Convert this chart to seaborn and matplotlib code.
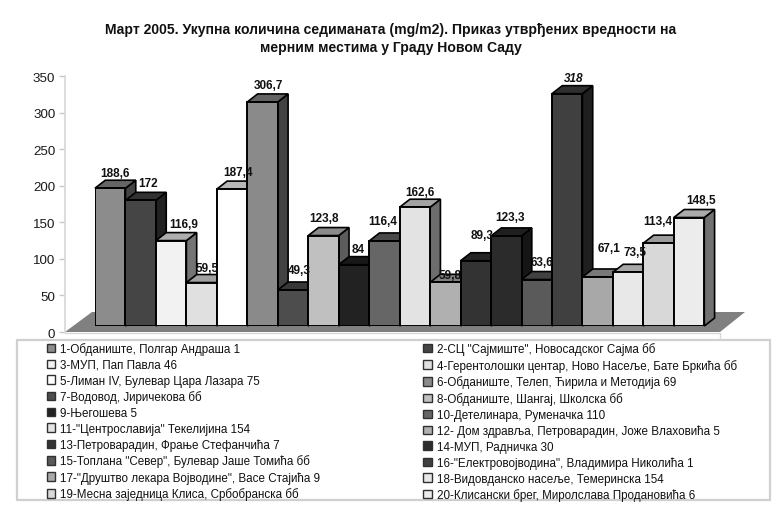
import numpy as np
import seaborn as sns
import matplotlib.pyplot as plt
from matplotlib.patches import Patch, Polygon, Rectangle
from matplotlib.colors import to_rgb

stations = ['1-Обданиште, Полгар Андраша 1', '2-СЦ "Сајмиште", Новосадског Сајма бб',
            '3-МУП, Пап Павла 46', '4-Герентолошки центар, Ново Насеље, Бате Бркића бб',
            '5-Лиман IV, Булевар Цара Лазара 75', '6-Обданиште, Телеп, Ћирила и Методија 69',
            '7-Водовод, Јиричекова бб', '8-Обданиште, Шангај, Школска бб',
            '9-Његошева 5', '10-Детелинара, Руменачка 110',
            '11-"Центрославија" Текелијина 154', '12- Дом здравља, Петроварадин, Јоже Влаховића 5',
            '13-Петроварадин, Фрање Стефанчића 7', '14-МУП, Радничка 30',
            '15-Топлана "Север", Булевар Јаше Томића бб', '16-"Електровојводина", Владимира Николића 1',
            '17-"Друштво лекара Војводине", Васе Стајића 9', '18-Видовданско насеље, Темеринска 154',
            '19-Месна заједница Клиса, Србобранска бб', '20-Клисански брег, Миролслава Продановића 6']
values = [188.6, 172, 116.9, 59.5, 187.4, 306.7, 49.3, 123.8, 84, 116.4,
          162.6, 59.8, 89.3, 123.3, 63.6, 318, 67.1, 73.5, 113.4, 148.5]
value_labels = ['188,6', '172', '116,9', '59,5', '187,4', '306,7', '49,3', '123,8', '84', '116,4',
                '162,6', '59,8', '89,3', '123,3', '63,6', '318', '67,1', '73,5', '113,4', '148,5']
colors = ['#8c8c8c', '#454545', '#f2f2f2', '#e0e0e0', '#ffffff', '#8a8a8a', '#4d4d4d', '#c0c0c0',
          '#222222', '#666666', '#e3e3e3', '#b0b0b0', '#333333', '#2b2b2b', '#5a5a5a', '#404040',
          '#a8a8a8', '#e8e8e8', '#d8d8d8', '#ececec']
yticks = [0, 50, 100, 150, 200, 250, 300, 350]

# label offsets from the top middle of each bar, in pixels
label_dx = [5, 7, 13, 6, 6, 6, 6, 1, 4, -2, 5, 5, 6, 4, 5, 6, 11, 7, -1, 12]
label_dy = [15, 17, 17, 15, 17, 17, 20, 18, 16, 20, 15, 7, 26, 19, 18, 16, 29, 20, 22, 18]

W, H = 780, 510

def box(left, top, right, bottom):
    return [left / W, 1 - bottom / H, (right - left) / W, (bottom - top) / H]

sns.set_theme(style='white')
plt.rcParams['font.family'] = ['Liberation Sans', 'DejaVu Sans']
fig = plt.figure(figsize=(7.8, 5.1), dpi=100)

# whole figure in pixels, for floor and legend frame
bg = fig.add_axes([0, 0, 1, 1])
bg.set_xlim(0, W)
bg.set_ylim(H, 0)
bg.axis('off')
bg.add_patch(Polygon([(65, 333), (92, 313), (745, 313), (720, 333)], fc='#808080', ec='none'))
bg.plot([65, 720, 720], [334, 334, 340], color='#d8d8d8', lw=1)
bg.add_patch(Rectangle((17, 341), 753, 160, fc='white', ec='#d0d0d0', lw=1.6))

# value axis
ax0 = fig.add_axes(box(65, 77, 720, 333))
ax0.patch.set_alpha(0)
ax0.set_ylim(0, 350)
ax0.set_xticks([])
ax0.set_yticks(yticks)
ax0.tick_params(axis='y', length=4, width=1, color='#c8c8c8', labelsize=9.6, pad=3,
                labelcolor='#1a1a1a', left=True)
sns.despine(ax=ax0, bottom=True)
ax0.spines['left'].set_color('#d8d8d8')

# bars sit a bit in front of the value axis
ax = fig.add_axes(box(95, 71.3, 704.3, 327))
ax.patch.set_alpha(0)
sns.barplot(x=stations, y=values, hue=stations, palette=colors, width=1, saturation=1,
            edgecolor='black', linewidth=1.4, legend=False, ax=ax)
ax.set_xlim(-0.5, 19.5)
ax.set_ylim(0, 350)
ax.axis('off')

depth_x = 10.3 / 30.46
depth_y = 8 / (255.7 / 350)
for bar, col, txt, dx, dy in zip(ax.patches, colors, value_labels, label_dx, label_dy):
    x0, w, h = bar.get_x(), bar.get_width(), bar.get_height()
    rgb = np.array(to_rgb(col))
    ax.add_patch(Polygon([(x0 + w, 0), (x0 + w + depth_x, depth_y), (x0 + w + depth_x, h + depth_y), (x0 + w, h)],
                         fc=rgb * 0.48, ec='black', lw=1.2, zorder=3, clip_on=False))
    ax.add_patch(Polygon([(x0, h), (x0 + depth_x, h + depth_y), (x0 + w + depth_x, h + depth_y), (x0 + w, h)],
                         fc=rgb * 0.72, ec='black', lw=1.2, zorder=3, clip_on=False))
    bar.set_zorder(4)
    ax.annotate(txt, (x0 + w / 2, h), xytext=(dx, dy), textcoords='offset pixels', ha='center', va='center',
                fontsize=8.5, fontweight='bold', color='#111111', zorder=6,
                fontstyle='italic' if txt == '318' else 'normal', annotation_clip=False)

fig.text(391 / W, 1 - 30 / H, 'Март 2005. Укупна количина седиманата (mg/m2). Приказ утврђених вредности на',
         ha='center', va='center', fontsize=10.1, fontweight='bold', color='#111111')
fig.text(391 / W, 1 - 48 / H, 'мерним местима у Граду Новом Саду',
         ha='center', va='center', fontsize=10.1, fontweight='bold', color='#111111')

handles = [Patch(fc=c, ec='#303030', lw=1) for c in colors]
order = list(range(0, 20, 2)) + list(range(1, 20, 2))
bg.legend([handles[i] for i in order], [stations[i] for i in order], ncols=2,
          loc='upper left', bbox_to_anchor=(38 / W, 1 - 334.5 / H), bbox_transform=fig.transFigure,
          frameon=False, fontsize=8.35, handlelength=0.75, handleheight=0.75, handletextpad=0.4,
          labelspacing=0.32, columnspacing=8.9, borderpad=0.25, labelcolor='#111111')

plt.savefig('out.png', dpi=100)
